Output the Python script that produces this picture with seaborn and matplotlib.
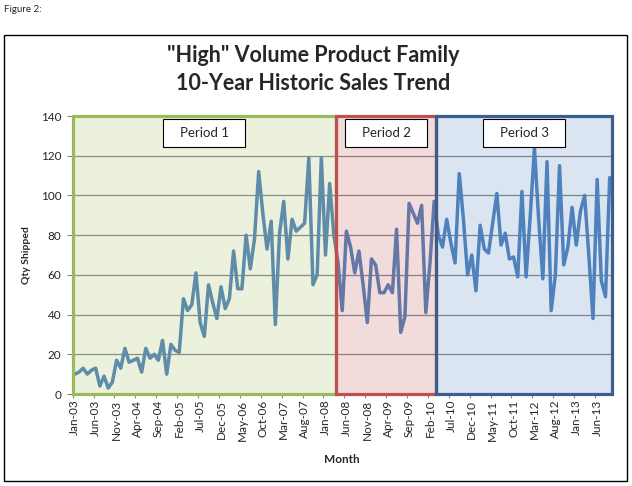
import pandas as pd
import seaborn as sns
import matplotlib.pyplot as plt
from matplotlib.patches import Rectangle

# monthly shipments, Jan-03 .. Sep-13
months = pd.date_range("2003-01-01", periods=129, freq="MS").strftime("%b-%y").tolist()
qty_shipped = [
    10, 11, 13, 10, 12, 13, 4, 9, 3, 6, 17, 13, 23, 16, 17, 18, 11, 23, 18, 20,
    17, 27, 10, 25, 22, 21, 48, 42, 45, 61, 36, 29, 55, 46, 38, 54, 43, 48, 72, 53,
    53, 80, 63, 78, 112, 91, 73, 87, 35, 81, 97, 68, 88, 82, 84, 86, 119, 55, 60, 119,
    70, 106, 80, 66, 42, 82, 74, 61, 72, 55, 36, 68, 65, 51, 51, 55, 51, 83, 31, 39,
    96, 91, 86, 95, 41, 66, 97, 80, 74, 88, 76, 66, 111, 88, 60, 70, 52, 85, 73, 71,
    86, 101, 75, 81, 68, 69, 59, 102, 59, 90, 124, 88, 58, 117, 42, 60, 115, 65, 74, 94,
    75, 92, 100, 70, 38, 108, 57, 49, 109,
]
period_names = ["Period 1", "Period 2", "Period 3"]
period_starts = ["Jan-03", "Apr-08", "Apr-10"]
tick_every = 5

fill_colors = ["#9BBB59", "#C0504D", "#4F81BD"]
edge_colors = ["#9BBB59", "#C0504D", "#3B5E8C"]

df = pd.DataFrame({"idx": range(len(months)), "month": months, "qty": qty_shipped})

sns.set_style("white")
plt.rcParams["font.family"] = ["Lato", "DejaVu Sans"]

fig = plt.figure(figsize=(6.32, 4.86), dpi=100)
ax = fig.add_axes([0.115, 0.1893, 0.853, 0.572])

sns.lineplot(data=df, x="idx", y="qty", color="#4F81BD", linewidth=2.5, ax=ax, zorder=2)

ax.set_xlim(-0.5, len(months) - 0.5)
ax.set_ylim(0, 140)
ax.set_yticks(range(0, 141, 20))
ax.yaxis.grid(True, color="#868686", linewidth=0.9)
ax.set_axisbelow(True)
for s in ax.spines.values():
    s.set_visible(False)

# x ticks: labels every 5 months, tick marks on category boundaries
major = list(range(0, len(months), tick_every))
ax.set_xticks(major)
ax.set_xticklabels([months[i] for i in major], rotation=90)
ax.set_xticks([i - 0.5 for i in major], minor=True)
ax.tick_params(axis="x", which="major", length=0, labelsize=8.5, pad=4)
ax.tick_params(axis="x", which="minor", length=3, width=0.8, color="#868686", bottom=True)
ax.tick_params(axis="y", length=4, width=0.8, color="#868686", labelsize=8.5, pad=4, left=True)

ax.set_xlabel("Month", fontsize=8.5, fontweight="bold")
ax.set_ylabel("Qty Shipped", fontsize=7.5, fontweight="bold")
ax.xaxis.set_label_coords(0.5, -0.215)
ax.yaxis.set_label_coords(-0.077, 0.5)

# period boxes
edges = [months.index(s) - 0.5 for s in period_starts] + [len(months) - 0.5]
xt = ax.get_xaxis_transform()
label_w = 19.6
for k, name in enumerate(period_names):
    x0, x1 = edges[k], edges[k + 1]
    ax.axvspan(x0, x1, color=fill_colors[k], alpha=0.2, lw=0, zorder=3)
    ax.add_patch(Rectangle((x0, 0), x1 - x0, 1, transform=xt, fill=False,
                           edgecolor=edge_colors[k], lw=2.3, zorder=5, clip_on=False))
    cx = (x0 + x1) / 2
    ax.add_patch(Rectangle((cx - label_w / 2, 0.888), label_w, 0.101, transform=xt,
                           facecolor="white", edgecolor="black", lw=0.8, zorder=6))
    ax.text(cx, 0.938, name, transform=xt, ha="center", va="center", fontsize=9.5, zorder=7)

# outer frame and titles
fig.add_artist(Rectangle((4 / 632, 1 - 481 / 486), 623 / 632, 446 / 486,
                         transform=fig.transFigure, fill=False, ec="black", lw=1))
fig.text(0.006, 1 - 9 / 486, "Figure 2:", fontsize=7, va="center")
fig.text(0.496, 1 - 56 / 486, '"High" Volume Product Family', ha="center", va="center",
         fontsize=15.5, fontweight="bold")
fig.text(0.496, 1 - 84 / 486, "10-Year Historic Sales Trend", ha="center", va="center",
         fontsize=15.5, fontweight="bold")

fig.savefig("out.png", dpi=100)
